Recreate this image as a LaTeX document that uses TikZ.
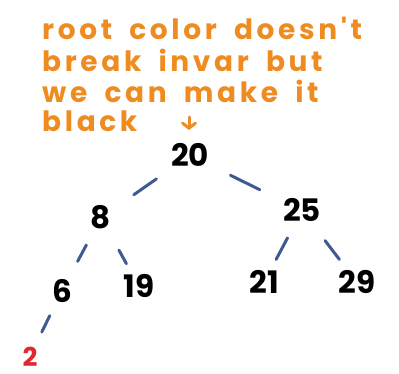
\documentclass[tikz,border=0pt]{standalone}
\usepackage{fontspec}
\newfontfamily\handfont{Poppins}
\newfontfamily\notefont{Poppins}[LetterSpace=13, WordSpace=1.8]
\usetikzlibrary{arrows.meta}
\definecolor{noteorange}{HTML}{EE8C22}
\definecolor{linkblue}{HTML}{3E5A8E}
\definecolor{newred}{HTML}{E0282E}

\begin{document}
\begin{tikzpicture}[
		x=1pt, y=1pt,
		key/.style={font=\handfont\bfseries\fontsize{31}{31}\selectfont, inner sep=0pt, anchor=base},
		note/.style={font=\notefont\bfseries\fontsize{28}{31}\selectfont, text=noteorange,
			inner sep=0pt, anchor=base west},
		link/.style={draw=linkblue, line width=3pt, line cap=round},
		pointer/.style={draw=noteorange, line width=3pt, line cap=round,
			-{Straight Barb[length=5pt, width=13pt, line cap=round]}}
		]
		\clip (0,0) rectangle (399,-374);
		
		% 1. Nota sobre la raiz
		\node[note] (note1) at (42,-40) {root color doesn't};
		\node[note] (note2) at (42,-72) {break invar but};
		\node[note] (note3) at (42,-103) {we can make it};
		\node[note] (note4) at (42,-132) {black};
		\coordinate (pointer tail) at (189,-117);
		\coordinate (pointer tip) at (189,-130);
		\draw[pointer] (pointer tail) -- (pointer tip);
		
		% 2. Claves del arbol
		\node[key] (k20) at (190,-167) {20};
		\node[key] (k8) at (101,-229) {8};
		\node[key] (k25) at (302,-222) {25};
		\node[key] (k6) at (62,-302) {6};
		\node[key] (k19) at (139,-298) {19};
		\node[key] (k21) at (264,-294) {21};
		\node[key] (k29) at (357,-294) {29};
		\node[key, text=newred, font=\handfont\bfseries\fontsize{26}{26}\selectfont] (k2) at (30,-366) {2};
		
		% 3. Aristas
		\draw[link, shorten <=41pt, shorten >=40pt] (k20.center) -- (k8.center);
		\draw[link, shorten <=45pt, shorten >=47pt] (k20.center) -- (k25.center);
		\draw[link, shorten <=31pt, shorten >=33pt] (k8.center) -- (k6.center);
		\draw[link, shorten <=37pt, shorten >=26pt] (k8.center) -- (k19.center);
		\draw[link, shorten <=31pt, shorten >=26pt] (k25.center) -- (k21.center);
		\draw[link, shorten <=38pt, shorten >=29pt] (k25.center) -- (k29.center);
		\draw[link, shorten <=28pt, shorten >=27pt] (k6.center) -- (k2.center);
		
	\end{tikzpicture}
\end{document}
